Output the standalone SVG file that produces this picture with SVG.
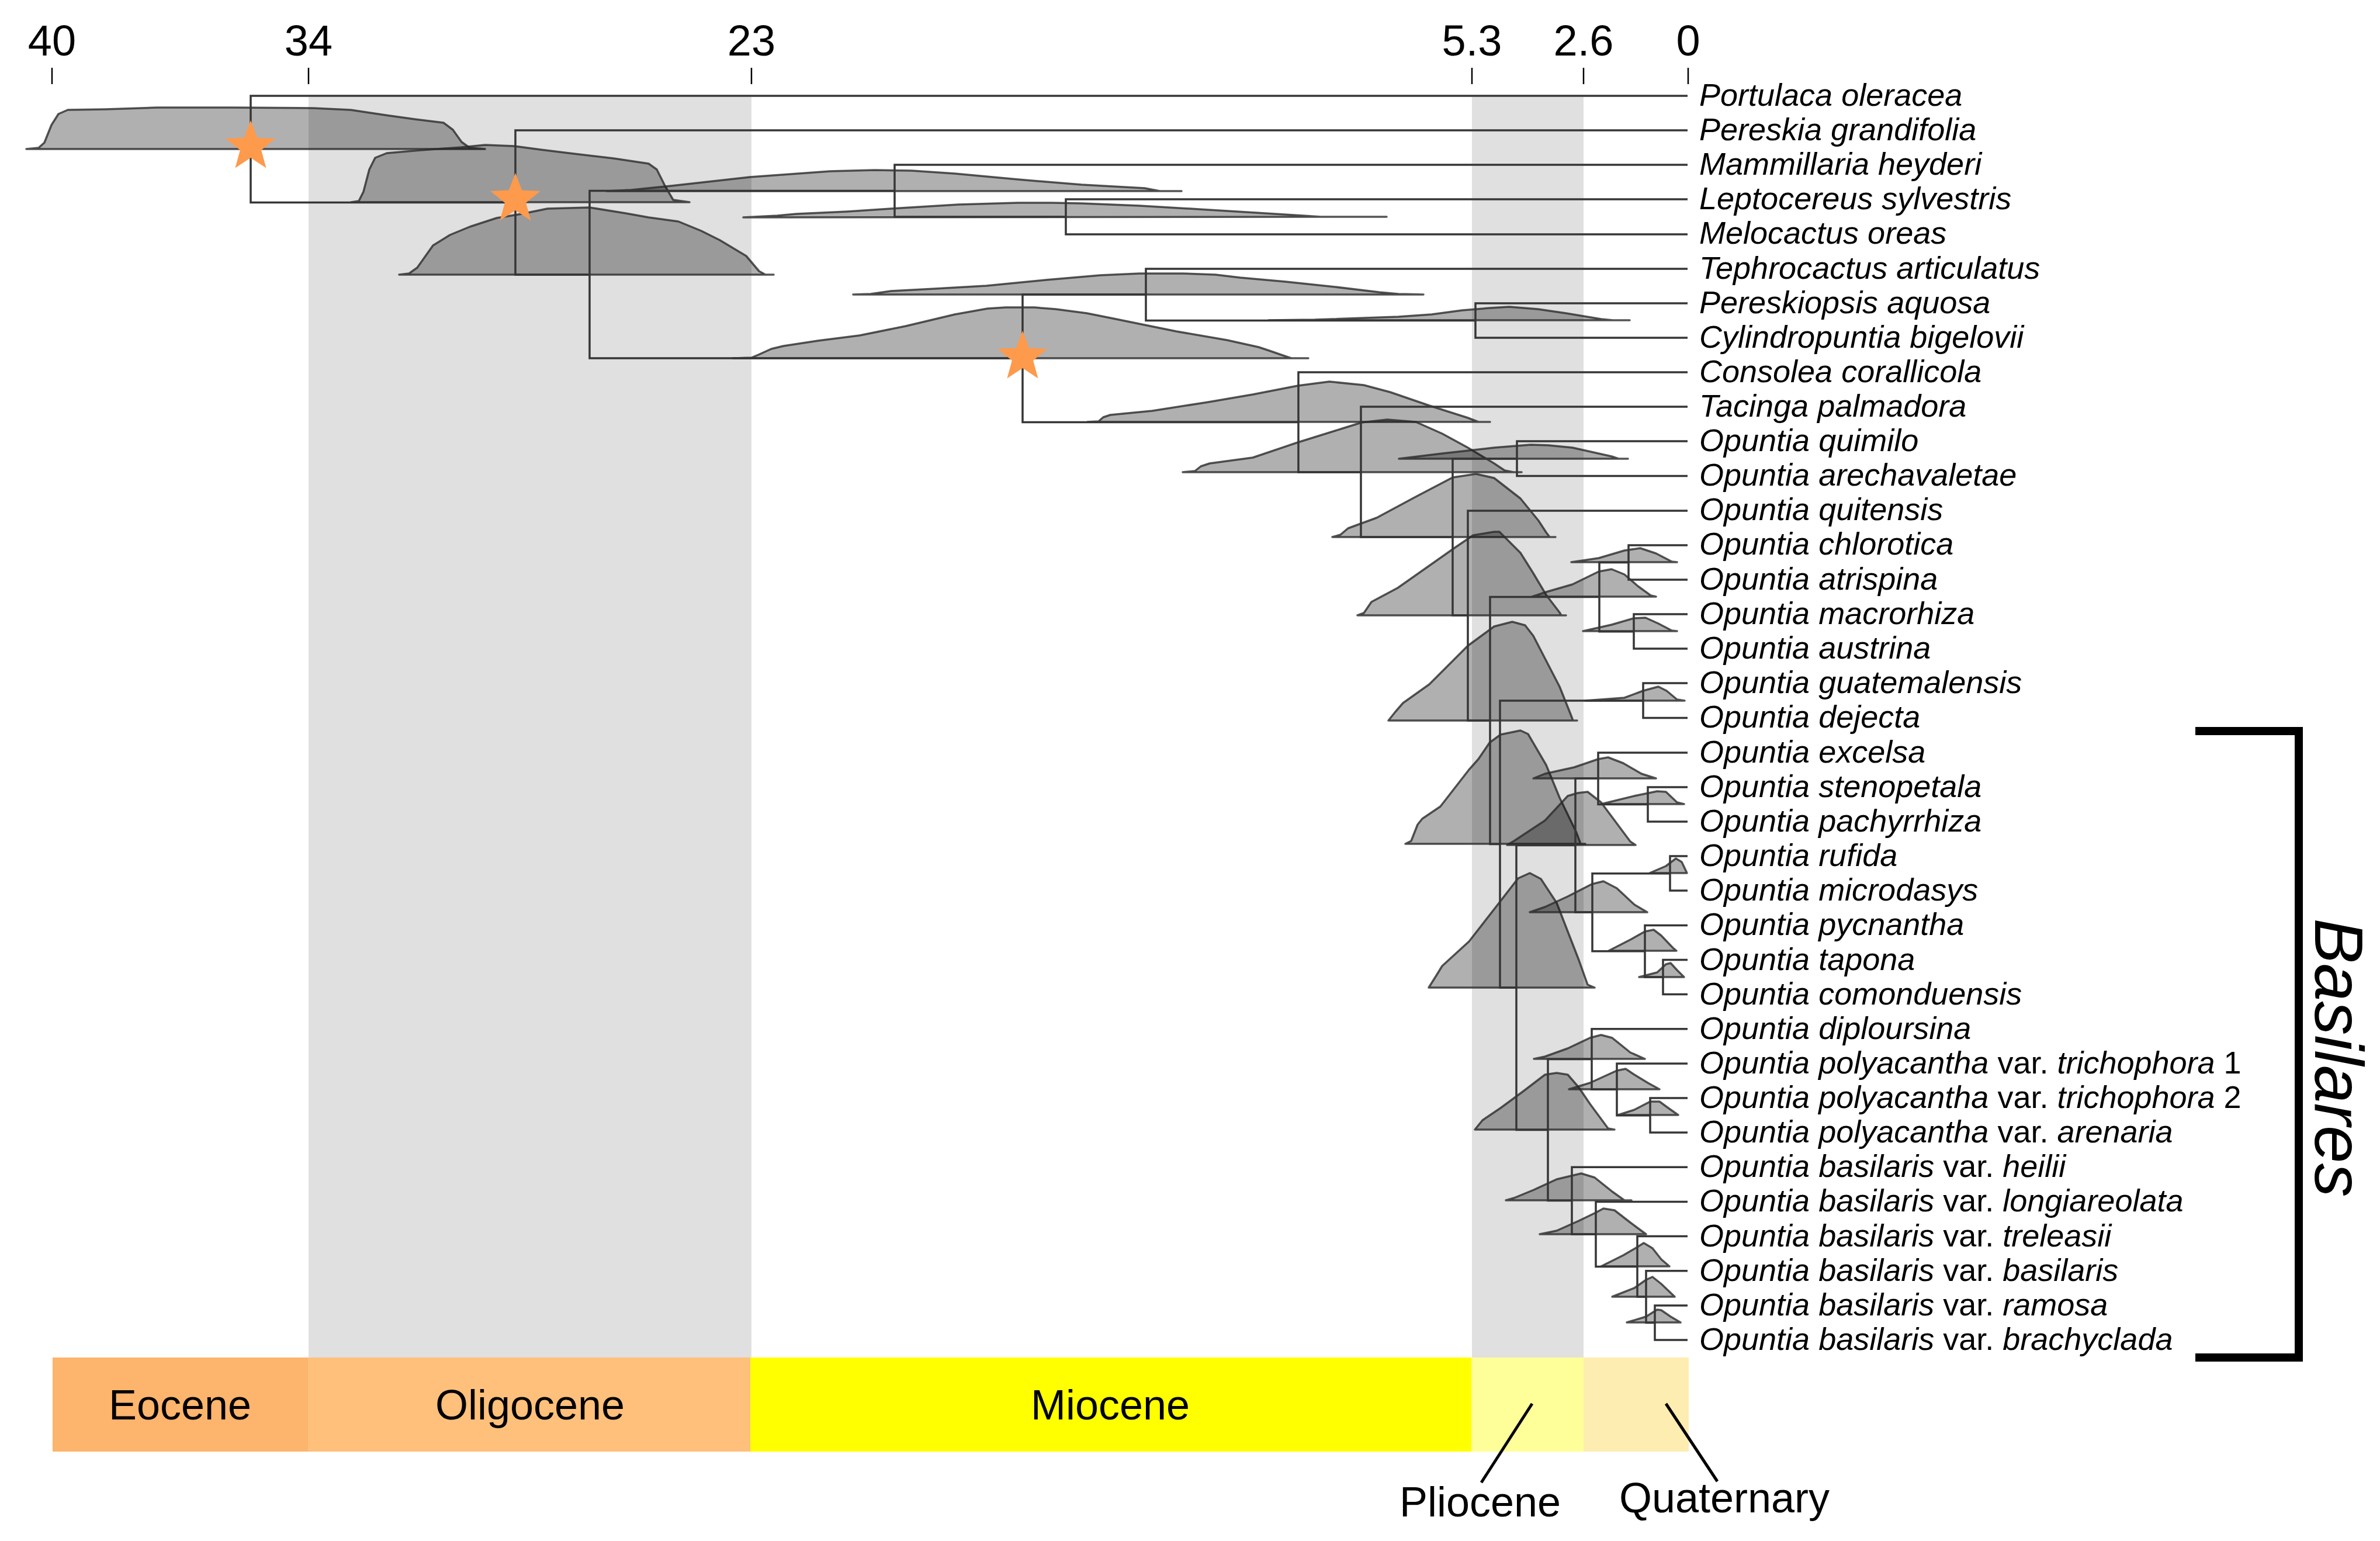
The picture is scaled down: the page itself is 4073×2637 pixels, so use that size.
<svg xmlns="http://www.w3.org/2000/svg" width="4073" height="2637" viewBox="0 0 4073 2637">
<style>
.d{fill:#000;fill-opacity:.31;stroke:#2a2a2a;stroke-opacity:.8;stroke-width:3.5;stroke-linejoin:round}
.t{fill:none;stroke:#363636;stroke-width:3.5}
.lab{font-family:"Liberation Sans",Arial,sans-serif;font-size:54px;font-style:italic;fill:#000}
.r{font-style:normal}
.ax{font-family:"Liberation Sans",Arial,sans-serif;font-size:74px;text-anchor:middle;fill:#000}
.geo{font-family:"Liberation Sans",Arial,sans-serif;font-size:72px;text-anchor:middle;fill:#000}
.tick{stroke:#000;stroke-width:2.5}
</style>
<defs>
<path id="star" d="M0,-45 L11.2,-15.4 L42.8,-13.9 L18.1,5.9 L26.5,36.4 L0,19 L-26.5,36.4 L-18.1,5.9 L-42.8,-13.9 L-11.2,-15.4 Z" fill="#fd9a4c"/>
</defs>
<rect width="4073" height="2637" fill="#fff"/>
<g id="bands">
<rect x="528" y="166" width="758" height="2157" fill="#e0e0e0"/>
<rect x="2519" y="166" width="191" height="2157" fill="#e0e0e0"/>
</g>
<g id="axis">
<line class="tick" x1="89" y1="116" x2="89" y2="144"/>
<line class="tick" x1="528" y1="116" x2="528" y2="144"/>
<line class="tick" x1="1286" y1="116" x2="1286" y2="144"/>
<line class="tick" x1="2519" y1="116" x2="2519" y2="144"/>
<line class="tick" x1="2710" y1="116" x2="2710" y2="144"/>
<line class="tick" x1="2889" y1="116" x2="2889" y2="144"/>
<text class="ax" x="89" y="95">40</text>
<text class="ax" x="528" y="95">34</text>
<text class="ax" x="1286" y="95">23</text>
<text class="ax" x="2519" y="95">5.3</text>
<text class="ax" x="2710" y="95">2.6</text>
<text class="ax" x="2889" y="95">0</text>
</g>
<g id="densities">
<path class="d" d="M45,255 L66,253 L76,244 L88,214 L100,195 L116,188 L180,187 L268,184 L400,184 L536,185 L600,188 L660,197 L710,204 L759,210 L775,222 L790,243 L804,253 L830,255 Z"/>
<path class="d" d="M601,346 L614,344 L622,328 L632,290 L642,270 L662,262 L720,257 L790,252 L830,248 L880,250 L925,256 L982,263 L1050,271 L1110,280 L1124,290 L1138,318 L1152,342 L1180,346 Z"/>
<path class="d" d="M683,470 L700,468 L714,458 L741,420 L770,402 L804,388 L850,373 L893,366 L937,357 L1009,355 L1071,365 L1110,372 L1161,379 L1200,395 L1232,411 L1277,438 L1299,464 L1310,470 L1324,470 Z"/>
<path class="d" d="M1038,327 L1080,325 L1149,318 L1283,303 L1421,293 L1497,291 L1560,292 L1634,297 L1742,307 L1851,316 L1959,322 L1985,327 L2022,327 Z"/>
<path class="d" d="M1272,372 L1330,369 L1363,366 L1450,362 L1525,357 L1640,350 L1742,347 L1800,347 L1851,348 L1950,352 L2068,359 L2150,364 L2230,369 L2260,371 L2373,371 Z"/>
<path class="d" d="M1254,613 L1286,612 L1298,607 L1320,597 L1341,592 L1400,583 L1471,574 L1550,558 L1634,538 L1690,528 L1721,526 L1770,526 L1807,529 L1860,536 L1905,545 L2013,567 L2100,582 L2154,594 L2175,601 L2198,609 L2210,613 L2239,613 Z"/>
<path class="d" d="M1460,504 L1490,503 L1525,498 L1600,494 L1688,489 L1790,479 L1883,471 L1950,468 L2024,468 L2080,470 L2122,475 L2200,482 L2285,491 L2360,500 L2393,503 L2436,504 Z"/>
<path class="d" d="M2171,548 L2250,547 L2393,542 L2450,538 L2502,531 L2550,527 L2583,525 L2632,529 L2680,536 L2740,546 L2760,548 L2789,548 Z"/>
<path class="d" d="M1861,722 L1880,721 L1888,714 L1900,710 L1972,703 L2068,688 L2144,675 L2221,660 L2275,653 L2334,659 L2379,671 L2446,694 L2512,715 L2530,722 L2550,722 Z"/>
<path class="d" d="M2024,808 L2045,806 L2055,798 L2070,793 L2144,783 L2221,757 L2298,733 L2330,723 L2374,718 L2423,722 L2468,742 L2512,766 L2557,793 L2575,805 L2590,808 L2604,808 Z"/>
<path class="d" d="M2394,785 L2468,776 L2557,766 L2620,761 L2650,762 L2691,766 L2758,781 L2770,785 L2786,785 Z"/>
<path class="d" d="M2280,919 L2294,915 L2307,904 L2356,886 L2423,850 L2486,817 L2526,811 L2557,818 L2602,853 L2633,891 L2646,911 L2652,919 L2662,919 Z"/>
<path class="d" d="M2323,1053 L2334,1049 L2347,1030 L2392,1006 L2446,968 L2490,937 L2521,916 L2557,910 L2566,910 L2602,946 L2624,981 L2646,1018 L2669,1048 L2672,1053 L2680,1053 Z"/>
<path class="d" d="M2376,1233 L2388,1218 L2401,1203 L2446,1171 L2512,1105 L2557,1072 L2588,1064 L2610,1070 L2624,1088 L2669,1175 L2687,1220 L2692,1233 L2699,1233 Z"/>
<path class="d" d="M2405,1444 L2415,1439 L2426,1411 L2434,1401 L2465,1380 L2514,1317 L2530,1299 L2549,1271 L2568,1257 L2602,1250 L2615,1256 L2646,1309 L2669,1365 L2698,1425 L2705,1444 L2713,1444 Z"/>
<path class="d" d="M2579,1446 L2591,1439 L2644,1404 L2683,1362 L2700,1357 L2717,1355 L2740,1373 L2790,1440 L2799,1446 Z"/>
<path class="d" d="M2445,1690 L2457,1671 L2468,1653 L2514,1611 L2560,1552 L2598,1503 L2618,1494 L2637,1504 L2664,1545 L2702,1643 L2717,1685 L2729,1690 Z"/>
<path class="d" d="M2622,1021 L2646,1013 L2691,1000 L2736,978 L2758,974 L2780,983 L2803,1003 L2825,1019 L2834,1021 Z"/>
<path class="d" d="M2689,962 L2736,955 L2780,942 L2807,938 L2834,947 L2861,961 L2870,962 Z"/>
<path class="d" d="M2709,1080 L2758,1069 L2796,1058 L2816,1057 L2838,1067 L2861,1079 L2870,1080 Z"/>
<path class="d" d="M2713,1199 L2780,1194 L2812,1182 L2838,1175 L2852,1182 L2870,1197 L2883,1199 Z"/>
<path class="d" d="M2624,1332 L2644,1324 L2694,1313 L2735,1299 L2752,1296 L2778,1306 L2809,1324 L2834,1332 Z"/>
<path class="d" d="M2740,1376 L2797,1362 L2836,1354 L2851,1355 L2870,1373 L2882,1376 Z"/>
<path class="d" d="M2823,1494 L2851,1482 L2868,1469 L2878,1475 L2887,1494 Z"/>
<path class="d" d="M2618,1561 L2644,1552 L2683,1534 L2724,1513 L2744,1508 L2767,1520 L2797,1548 L2819,1561 Z"/>
<path class="d" d="M2753,1627 L2790,1608 L2815,1594 L2830,1591 L2843,1601 L2863,1622 L2869,1627 Z"/>
<path class="d" d="M2805,1672 L2836,1664 L2851,1650 L2859,1648 L2870,1660 L2882,1672 Z"/>
<path class="d" d="M2524,1933 L2537,1917 L2568,1896 L2606,1868 L2644,1839 L2664,1836 L2683,1839 L2702,1861 L2721,1889 L2752,1931 L2763,1933 Z"/>
<path class="d" d="M2625,1812 L2644,1808 L2683,1794 L2721,1776 L2740,1771 L2759,1776 L2790,1801 L2815,1812 Z"/>
<path class="d" d="M2685,1864 L2721,1853 L2767,1832 L2782,1829 L2797,1839 L2820,1853 L2840,1864 Z"/>
<path class="d" d="M2769,1908 L2797,1899 L2824,1885 L2840,1885 L2855,1896 L2872,1908 Z"/>
<path class="d" d="M2577,2054 L2591,2050 L2625,2036 L2664,2018 L2706,2008 L2729,2015 L2759,2039 L2780,2054 L2792,2054 Z"/>
<path class="d" d="M2635,2112 L2664,2106 L2702,2089 L2731,2075 L2744,2068 L2763,2071 L2790,2092 L2817,2112 Z"/>
<path class="d" d="M2740,2167 L2778,2148 L2802,2134 L2813,2127 L2828,2136 L2843,2155 L2857,2167 Z"/>
<path class="d" d="M2759,2219 L2797,2204 L2817,2190 L2828,2185 L2843,2197 L2866,2219 Z"/>
<path class="d" d="M2784,2263 L2817,2253 L2836,2241 L2843,2242 L2859,2253 L2876,2263 Z"/>
</g>
<g id="connectors" class="t">
<path d="M2888,164 H429 V346.5 H882"/>
<path d="M2888,223 H882 V470 H1009"/>
<path d="M1531,326.5 H1009 V613 H1750"/>
<path d="M2888,282 H1531 V371 H1824"/>
<path d="M2888,341 H1824 V401 H2888"/>
<path d="M1961,504 H1750 V722.4 H2222"/>
<path d="M2888,460 H1961 V548.5 H2525"/>
<path d="M2888,519 H2525 V578 H2888"/>
<path d="M2888,637 H2222 V808 H2329"/>
<path d="M2888,696 H2329 V919 H2486"/>
<path d="M2596,785 H2486 V1053 H2512"/>
<path d="M2888,755 H2596 V814.5 H2888"/>
<path d="M2888,874 H2512 V1233 H2550"/>
<path d="M2737,1021.5 H2550 V1444.5 H2567"/>
<path d="M2787,962.4 H2737 V1080.7 H2796"/>
<path d="M2888,933 H2787 V992 H2888"/>
<path d="M2888,1051 H2796 V1110 H2888"/>
<path d="M2812,1199 H2567 V1690 H2595"/>
<path d="M2888,1169 H2812 V1228.5 H2888"/>
<path d="M2696,1446.6 H2595 V1933.6 H2649"/>
<path d="M2735,1332 H2696 V1561 H2725"/>
<path d="M2888,1288 H2735 V1376.4 H2820"/>
<path d="M2888,1347 H2820 V1406 H2888"/>
<path d="M2858,1494.7 H2725 V1627.7 H2815"/>
<path d="M2888,1465 H2858 V1524 H2888"/>
<path d="M2888,1583.4 H2815 V1672 H2846"/>
<path d="M2888,1642.5 H2846 V1701.6 H2888"/>
<path d="M2724,1812.5 H2649 V2054.6 H2690"/>
<path d="M2888,1760.8 H2724 V1864.3 H2767"/>
<path d="M2888,1820 H2767 V1908.7 H2824"/>
<path d="M2888,1879 H2824 V1938 H2888"/>
<path d="M2888,1997.3 H2690 V2112 H2731"/>
<path d="M2888,2056.5 H2731 V2167.4 H2802"/>
<path d="M2888,2115.6 H2802 V2219.1 H2817"/>
<path d="M2888,2174.8 H2817 V2263.5 H2832"/>
<path d="M2888,2234 H2832 V2293 H2888"/>
</g>
<g id="stars">
<use href="#star" x="429" y="251"/>
<use href="#star" x="882" y="341"/>
<use href="#star" x="1750" y="611"/>
</g>
<g id="labels" class="lab">
<g id="t00"><text x="2908" y="181">Portulaca oleracea</text></g>
<g id="t01"><text x="2908" y="240">Pereskia grandifolia</text></g>
<g id="t02"><text x="2908" y="299">Mammillaria heyderi</text></g>
<g id="t03"><text x="2908" y="358">Leptocereus sylvestris</text></g>
<g id="t04"><text x="2908" y="417">Melocactus oreas</text></g>
<g id="t05"><text x="2908" y="477">Tephrocactus articulatus</text></g>
<g id="t06"><text x="2908" y="536">Pereskiopsis aquosa</text></g>
<g id="t07"><text x="2908" y="595">Cylindropuntia bigelovii</text></g>
<g id="t08"><text x="2908" y="654">Consolea corallicola</text></g>
<g id="t09"><text x="2908" y="713">Tacinga palmadora</text></g>
<g id="t10"><text x="2908" y="772">Opuntia quimilo</text></g>
<g id="t11"><text x="2908" y="831">Opuntia arechavaletae</text></g>
<g id="t12"><text x="2908" y="890">Opuntia quitensis</text></g>
<g id="t13"><text x="2908" y="949">Opuntia chlorotica</text></g>
<g id="t14"><text x="2908" y="1009">Opuntia atrispina</text></g>
<g id="t15"><text x="2908" y="1068">Opuntia macrorhiza</text></g>
<g id="t16"><text x="2908" y="1127">Opuntia austrina</text></g>
<g id="t17"><text x="2908" y="1186">Opuntia guatemalensis</text></g>
<g id="t18"><text x="2908" y="1245">Opuntia dejecta</text></g>
<g id="t19"><text x="2908" y="1305">Opuntia excelsa</text></g>
<g id="t20"><text x="2908" y="1364">Opuntia stenopetala</text></g>
<g id="t21"><text x="2908" y="1423">Opuntia pachyrrhiza</text></g>
<g id="t22"><text x="2908" y="1482">Opuntia rufida</text></g>
<g id="t23"><text x="2908" y="1541">Opuntia microdasys</text></g>
<g id="t24"><text x="2908" y="1600">Opuntia pycnantha</text></g>
<g id="t25"><text x="2908" y="1660">Opuntia tapona</text></g>
<g id="t26"><text x="2908" y="1719">Opuntia comonduensis</text></g>
<g id="t27"><text x="2908" y="1778">Opuntia diploursina</text></g>
<g id="t28"><text x="2908" y="1837">Opuntia polyacantha <tspan class="r">var.</tspan> trichophora <tspan class="r">1</tspan></text></g>
<g id="t29"><text x="2908" y="1896">Opuntia polyacantha <tspan class="r">var.</tspan> trichophora <tspan class="r">2</tspan></text></g>
<g id="t30"><text x="2908" y="1955">Opuntia polyacantha <tspan class="r">var.</tspan> arenaria</text></g>
<g id="t31"><text x="2908" y="2014">Opuntia basilaris <tspan class="r">var.</tspan> heilii</text></g>
<g id="t32"><text x="2908" y="2073">Opuntia basilaris <tspan class="r">var.</tspan> longiareolata</text></g>
<g id="t33"><text x="2908" y="2133">Opuntia basilaris <tspan class="r">var.</tspan> treleasii</text></g>
<g id="t34"><text x="2908" y="2192">Opuntia basilaris <tspan class="r">var.</tspan> basilaris</text></g>
<g id="t35"><text x="2908" y="2251">Opuntia basilaris <tspan class="r">var.</tspan> ramosa</text></g>
<g id="t36"><text x="2908" y="2310">Opuntia basilaris <tspan class="r">var.</tspan> brachyclada</text></g>
</g>
<g id="basilares">
<path d="M3757,1251 H3934 V2323 H3757" fill="none" stroke="#000" stroke-width="14"/>
<text transform="translate(3962,1810) rotate(90)" font-family="Liberation Sans, Arial, sans-serif" font-size="116" font-style="italic" text-anchor="middle">Basilares</text>
</g>
<g id="timescale">
<rect x="90" y="2323" width="437" height="161" fill="#fdb46c"/>
<rect x="527" y="2323" width="757" height="161" fill="#fec07a"/>
<rect x="1284" y="2323" width="1234" height="161" fill="#ffff00"/>
<rect x="2518" y="2323" width="192" height="161" fill="#ffff99"/>
<rect x="2710" y="2323" width="180" height="161" fill="#feedb0"/>
<text class="geo" x="308" y="2429">Eocene</text>
<text class="geo" x="907" y="2429">Oligocene</text>
<text class="geo" x="1900" y="2429">Miocene</text>
<line x1="2622" y1="2402" x2="2535" y2="2537" stroke="#000" stroke-width="5"/>
<line x1="2851" y1="2402" x2="2939" y2="2535" stroke="#000" stroke-width="5"/>
<text class="geo" x="2533" y="2595">Pliocene</text>
<text class="geo" x="2951" y="2588">Quaternary</text>
</g>
</svg>
